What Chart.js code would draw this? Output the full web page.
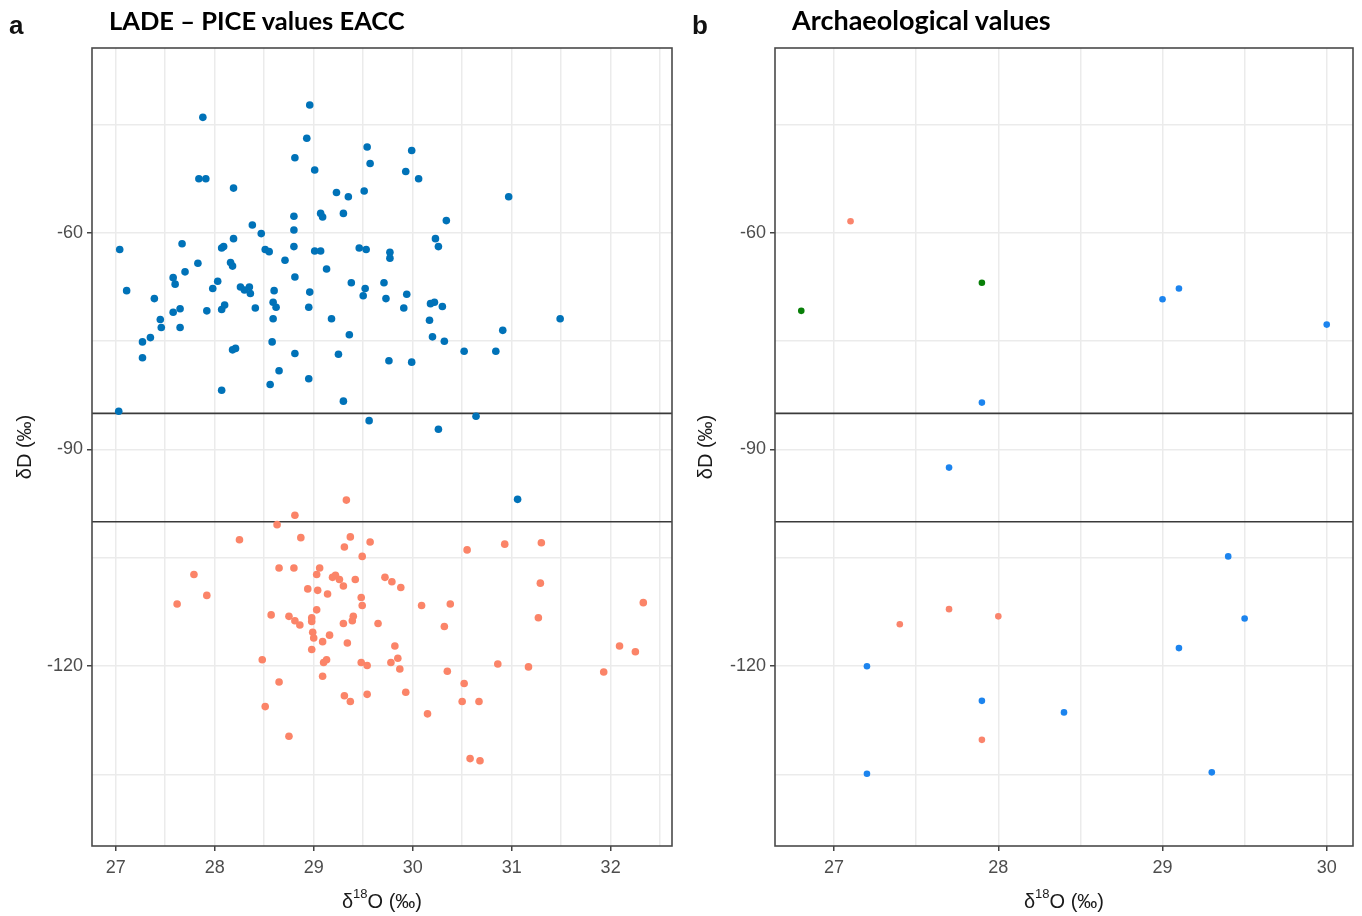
<!DOCTYPE html>
<html lang="en">
<head>
<meta charset="UTF-8">
<title>LADE – PICE values EACC / Archaeological values</title>
<script src="https://cdn.jsdelivr.net/npm/chart.js"></script>
<style>
  body { margin: 0; background: #fff; width: 1362px; height: 916px; position: relative; overflow: hidden; }
  canvas { position: absolute; top: 0; }
  #chartA { left: 0; }
  #chartB { left: 681px; }
  .letter { position: absolute; top: 7px; font: bold 26px "Liberation Sans", Arial, sans-serif; color: #111; line-height: 36px; }
  .title { position: absolute; top: 4px; font-weight: bold; font-family: Lato, "Open Sans", sans-serif; color: #000; line-height: 32px; }
</style>
</head>
<body>
<canvas id="chartA" width="681" height="916"></canvas>
<canvas id="chartB" width="681" height="916"></canvas>
<div class="letter" style="left:9px">a</div>
<div class="title" style="left:109px; font-size:25.5px">LADE – PICE values EACC</div>
<div class="letter" style="left:692px">b</div>
<div class="title" style="left:792px; font-size:27px">Archaeological values</div>
<script>
// panel a: EACC blue (above the lines) and red (below)
const aBlueO = [27.88, 28.96, 28.93, 29.54, 29.57, 28.81, 29.01, 27.84, 27.91, 28.19,
  29.23, 29.35, 29.51, 29.07, 29.09, 29.30, 28.80, 28.80, 28.38, 28.47,
  27.04, 27.67, 28.07, 28.09, 28.19, 28.51, 28.55, 28.80, 29.01, 29.07,
  29.46, 29.53, 29.77, 29.77, 27.83, 27.70, 28.16, 28.18, 28.71, 29.13,
  28.81, 27.58, 27.60, 28.03, 27.11, 27.39, 27.98, 28.26, 28.30, 28.35,
  28.36, 28.60, 28.96, 29.38, 29.52, 29.50, 29.71, 29.73, 29.99, 29.93,
  30.06, 30.97, 30.34, 30.23, 30.26, 29.94, 27.58, 27.65, 27.45, 27.46,
  27.65, 27.92, 28.07, 28.10, 28.41, 28.59, 28.62, 28.59, 28.95, 29.18,
  29.36, 27.27, 27.35, 27.27, 28.18, 28.21, 28.58, 28.81, 29.25, 29.76,
  28.65, 28.56, 28.95, 28.07, 29.30, 27.03, 29.56, 30.18, 30.22, 29.91,
  30.30, 30.17, 30.20, 30.32, 30.91, 31.49, 29.99, 30.52, 30.84, 30.64,
  30.26, 31.06];
const aBlueD = [-44.0, -42.3, -46.9, -48.1, -50.4, -49.6, -51.3, -52.5, -52.5, -53.8,
  -54.4, -55.0, -54.2, -57.3, -57.8, -57.3, -57.7, -59.6, -58.9, -60.1,
  -62.3, -61.5, -62.1, -61.9, -60.8, -62.3, -62.6, -61.9, -62.5, -62.5,
  -62.1, -62.3, -62.7, -63.5, -64.2, -65.4, -64.1, -64.6, -63.8, -65.0,
  -66.1, -66.2, -67.1, -66.7, -68.0, -69.1, -67.7, -67.5, -67.9, -67.5,
  -68.4, -68.0, -68.2, -66.9, -67.7, -68.7, -66.9, -69.1, -48.6, -51.5,
  -52.5, -55.0, -58.3, -60.8, -61.9, -68.5, -71.0, -70.5, -72.0, -73.1,
  -73.1, -70.8, -70.6, -70.0, -70.4, -69.6, -70.3, -71.9, -70.3, -71.9,
  -74.1, -75.1, -74.5, -77.3, -76.2, -76.0, -75.1, -76.7, -76.8, -77.7,
  -79.1, -81.0, -80.2, -81.8, -83.3, -84.7, -86.0, -69.8, -69.6, -70.4,
  -70.2, -72.1, -74.4, -75.0, -73.5, -71.9, -77.9, -76.4, -76.4, -85.4,
  -87.2, -96.9];
const aRedO = [29.33, 28.81, 28.63, 28.25, 28.87, 29.37, 29.57, 29.31, 29.49, 27.79,
  28.65, 28.80, 29.06, 29.03, 29.19, 29.22, 29.26, 29.30, 29.42, 29.72,
  27.92, 27.62, 28.94, 29.04, 29.14, 29.48, 29.49, 29.03, 28.57, 28.75,
  28.81, 28.86, 28.98, 28.98, 29.30, 29.39, 29.40, 29.65, 28.99, 29.00,
  29.09, 29.16, 29.34, 28.98, 28.48, 29.10, 29.13, 29.09, 29.48, 29.54,
  28.65, 29.31, 29.37, 29.54, 28.51, 28.75, 30.55, 30.93, 31.30, 29.79,
  29.88, 31.29, 32.33, 30.09, 30.38, 31.27, 30.32, 29.82, 29.85, 29.78,
  29.87, 32.09, 32.25, 30.86, 31.17, 31.93, 30.35, 29.93, 30.52, 30.50,
  30.67, 30.15, 30.58, 30.68];
const aRedD = [-97.0, -99.1, -100.4, -102.5, -102.2, -102.1, -102.8, -103.5, -104.8, -107.3,
  -106.4, -106.4, -106.4, -107.3, -107.7, -107.4, -108.0, -108.9, -108.0, -107.7,
  -110.2, -111.4, -109.3, -109.5, -110.0, -110.5, -111.6, -112.2, -112.9, -113.1,
  -113.7, -114.3, -113.3, -113.8, -114.1, -113.7, -113.1, -114.1, -115.3, -116.1,
  -116.6, -115.7, -116.8, -117.7, -119.1, -119.5, -119.1, -121.4, -119.5, -119.9,
  -122.2, -124.1, -124.9, -123.9, -125.6, -129.7, -103.9, -103.1, -102.9, -108.3,
  -109.1, -108.5, -111.2, -111.6, -111.4, -113.3, -114.5, -117.2, -118.9, -119.5,
  -120.4, -117.2, -118.0, -119.7, -120.1, -120.8, -120.7, -123.6, -122.4, -124.9,
  -124.9, -126.6, -132.8, -133.1];

// panel b: archaeological values
const bBlueO = [29.0, 29.1, 30.0, 27.9, 27.7, 29.4, 29.5, 29.1, 27.2, 27.9, 28.4, 27.2, 29.3];
const bBlueD = [-69.2, -67.7, -72.7, -83.5, -92.5, -104.8, -113.4, -117.5, -120.0, -124.8, -126.4, -134.9, -134.7];
const bRedO = [27.1, 27.4, 27.7, 28.0, 27.9];
const bRedD = [-58.4, -114.2, -112.1, -113.1, -130.2];
const bGreenO = [26.8, 27.9];
const bGreenD = [-70.8, -66.9];

// horizontal limits between groups
const thresholdD = [-85, -100];

const yMin = -144.9, yMax = -34.4;

function zip(xs, ys) {
    return xs.map((x, i) => ({x: x, y: ys[i]}));
}

function isWhole(v, step) {
    const r = v / step;
    return Math.abs(r - Math.round(r)) < 1e-6;
}

const labelFamily = '"Liberation Sans", Arial, sans-serif';

const framePlugin = {
    id: 'frame',
    beforeDatasetsDraw(chart) {
        const {ctx, chartArea: a, scales: {y}} = chart;
        ctx.save();
        ctx.strokeStyle = '#3a3a3a';
        ctx.lineWidth = 1.6;
        thresholdD.forEach(v => {
            const py = y.getPixelForValue(v);
            ctx.beginPath();
            ctx.moveTo(a.left, py);
            ctx.lineTo(a.right, py);
            ctx.stroke();
        });
        ctx.restore();
    },
    afterDraw(chart) {
        const {ctx, chartArea: a} = chart;
        ctx.save();
        ctx.strokeStyle = '#4a4a4a';
        ctx.lineWidth = 1.6;
        ctx.strokeRect(a.left, a.top, a.right - a.left, a.bottom - a.top);

        // x axis title with a real superscript
        const parts = [
            {t: 'δ', size: 20, dy: 0},
            {t: '18', size: 13, dy: -8},
            {t: 'O (‰)', size: 20, dy: 0}
        ];
        let total = 0;
        parts.forEach(p => {
            ctx.font = p.size + 'px ' + labelFamily;
            p.w = ctx.measureText(p.t).width;
            total += p.w;
        });
        let x = (a.left + a.right) / 2 - total / 2;
        const y0 = 902;
        ctx.fillStyle = '#1a1a1a';
        ctx.textBaseline = 'middle';
        ctx.textAlign = 'left';
        parts.forEach(p => {
            ctx.font = p.size + 'px ' + labelFamily;
            ctx.fillText(p.t, x, y0 + p.dy);
            x += p.w;
        });
        ctx.restore();
    }
};

const tickFont = {family: labelFamily, size: 18};
const titleFont = {family: labelFamily, size: 20};

function makeChart(id, xMin, xMax, yWidth, radius, datasets) {
    new Chart(document.getElementById(id), {
        type: 'scatter',
        data: {datasets: datasets.map(d => ({
            data: d.data,
            backgroundColor: d.color,
            borderWidth: 0,
            pointRadius: radius
        }))},
        options: {
            responsive: false,
            animation: false,
            layout: {padding: {top: 48, right: 9, left: 0, bottom: 0}},
            plugins: {legend: {display: false}, tooltip: {enabled: false}},
            scales: {
                x: {
                    type: 'linear',
                    min: xMin,
                    max: xMax,
                    afterFit: s => { s.height = 70; },
                    border: {display: false},
                    grid: {
                        color: '#ebebeb',
                        lineWidth: 1.5,
                        tickLength: 5,
                        tickColor: c => (c.tick && isWhole(c.tick.value, 1)) ? '#444' : 'rgba(0,0,0,0)'
                    },
                    ticks: {
                        stepSize: 0.5,
                        includeBounds: false,
                        autoSkip: false,
                        maxRotation: 0,
                        padding: 6,
                        color: '#4d4d4d',
                        font: tickFont,
                        callback: v => isWhole(v, 1) ? String(Math.round(v)) : ''
                    },
                    title: {display: false}
                },
                y: {
                    type: 'linear',
                    min: yMin,
                    max: yMax,
                    afterFit: s => { s.width = yWidth; },
                    border: {display: false},
                    grid: {
                        color: '#ebebeb',
                        lineWidth: 1.5,
                        tickLength: 5,
                        tickColor: c => (c.tick && isWhole(c.tick.value, 30)) ? '#444' : 'rgba(0,0,0,0)'
                    },
                    ticks: {
                        stepSize: 15,
                        includeBounds: false,
                        autoSkip: false,
                        padding: 4,
                        color: '#4d4d4d',
                        font: tickFont,
                        callback: v => isWhole(v, 30) ? String(Math.round(v)) : ''
                    },
                    title: {display: true, text: 'δD (‰)', color: '#1a1a1a', font: titleFont, padding: {top: 13, bottom: 0}}
                }
            }
        },
        plugins: [framePlugin]
    });
}

makeChart('chartA', 26.76, 32.62, 92, 3.8, [
    {data: zip(aBlueO, aBlueD), color: '#0072B8'},
    {data: zip(aRedO, aRedD), color: '#FB8468'}
]);

makeChart('chartB', 26.64, 30.16, 94, 3.3, [
    {data: zip(bRedO, bRedD), color: '#FA846C'},
    {data: zip(bGreenO, bGreenD), color: '#087F08'},
    {data: zip(bBlueO, bBlueD), color: '#1C84EE'}
]);
</script>
</body>
</html>
